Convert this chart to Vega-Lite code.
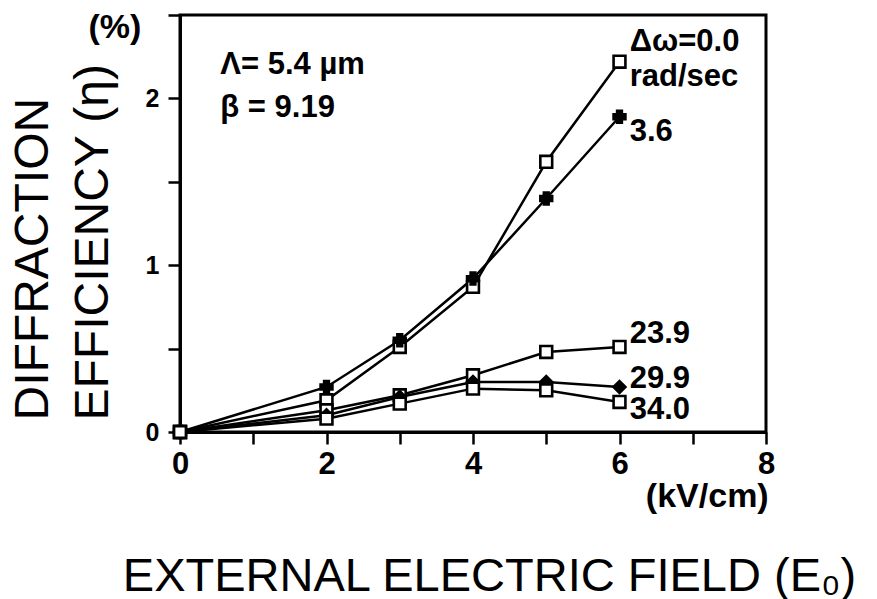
{
  "$schema": "https://vega.github.io/schema/vega-lite/v6.json",
  "width": 586,
  "height": 417,
  "autosize": {"type": "none"},
  "padding": {"left": 180, "top": 15, "right": 111, "bottom": 167},
  "background": "white",
  "config": {
    "font": "Liberation Sans",
    "view": {"stroke": "black", "strokeWidth": 3},
    "axis": {"grid": false, "domainColor": "black", "tickColor": "black", "labelColor": "black", "titleColor": "black"}
  },
  "datasets": {
    "curves": [
      {"s": "0.0", "e": 0, "eta": 0}, {"s": "0.0", "e": 2, "eta": 0.19}, {"s": "0.0", "e": 3, "eta": 0.51}, {"s": "0.0", "e": 4, "eta": 0.87}, {"s": "0.0", "e": 5, "eta": 1.62}, {"s": "0.0", "e": 6, "eta": 2.22},
      {"s": "3.6", "e": 0, "eta": 0}, {"s": "3.6", "e": 2, "eta": 0.27}, {"s": "3.6", "e": 3, "eta": 0.55}, {"s": "3.6", "e": 4, "eta": 0.92}, {"s": "3.6", "e": 5, "eta": 1.40}, {"s": "3.6", "e": 6, "eta": 1.89},
      {"s": "23.9", "e": 0, "eta": 0}, {"s": "23.9", "e": 2, "eta": 0.13}, {"s": "23.9", "e": 3, "eta": 0.22}, {"s": "23.9", "e": 4, "eta": 0.34}, {"s": "23.9", "e": 5, "eta": 0.48}, {"s": "23.9", "e": 6, "eta": 0.51},
      {"s": "29.9", "e": 0, "eta": 0}, {"s": "29.9", "e": 2, "eta": 0.10}, {"s": "29.9", "e": 3, "eta": 0.21}, {"s": "29.9", "e": 4, "eta": 0.30}, {"s": "29.9", "e": 5, "eta": 0.30}, {"s": "29.9", "e": 6, "eta": 0.27},
      {"s": "34.0", "e": 0, "eta": 0}, {"s": "34.0", "e": 2, "eta": 0.08}, {"s": "34.0", "e": 3, "eta": 0.17}, {"s": "34.0", "e": 4, "eta": 0.26}, {"s": "34.0", "e": 5, "eta": 0.25}, {"s": "34.0", "e": 6, "eta": 0.18}
    ],
    "notes": [
      {"e": 0.55, "eta": 2.2, "t": "Λ= 5.4 µm"},
      {"e": 0.55, "eta": 1.94, "t": "β = 9.19"},
      {"e": 6.14, "eta": 2.34, "t": "Δω=0.0"},
      {"e": 6.14, "eta": 2.13, "t": "rad/sec"},
      {"e": 6.14, "eta": 1.80, "t": "3.6"},
      {"e": 6.14, "eta": 0.59, "t": "23.9"},
      {"e": 6.14, "eta": 0.32, "t": "29.9"},
      {"e": 6.14, "eta": 0.13, "t": "34.0"}
    ],
    "units": [
      {"e": -1.25, "eta": 2.425, "t": "(%)"},
      {"e": 6.36, "eta": -0.39, "t": "(kV/cm)"}
    ]
  },
  "encoding": {
    "x": {
      "field": "e", "type": "quantitative",
      "scale": {"domain": [0, 8], "nice": false, "zero": false},
      "axis": {
        "values": [0, 1, 2, 3, 4, 5, 6, 7, 8],
        "format": "~g",
        "labelExpr": "datum.value % 2 === 0 ? datum.label : ''",
        "labelFlush": false, "labelOverlap": false,
        "tickSize": 12, "tickWidth": 2.5, "domainWidth": 3,
        "labelFontSize": 31, "labelFontWeight": "bold", "labelPadding": 5,
        "title": "EXTERNAL ELECTRIC FIELD (E₀)",
        "titleFontSize": 47, "titleFontWeight": "normal",
        "titleX": 309, "titleY": 158, "titleBaseline": "alphabetic", "titleAlign": "center"
      }
    },
    "y": {
      "field": "eta", "type": "quantitative",
      "scale": {"domain": [0, 2.5], "nice": false},
      "axis": {
        "values": [0, 0.5, 1, 1.5, 2, 2.5],
        "format": "~g",
        "labelExpr": "datum.value % 1 === 0 ? datum.label : ''",
        "labelOverlap": false,
        "tickSize": 12, "tickWidth": 2.5, "domainWidth": 3,
        "labelFontSize": 25, "labelFontWeight": "bold", "labelPadding": 9,
        "title": ["DIFFRACTION", "EFFICIENCY (η)"],
        "titleFontSize": 48, "titleFontWeight": "normal", "titleLineHeight": 60,
        "titleX": -133, "titleY": 405, "titleAngle": 270, "titleBaseline": "alphabetic", "titleAlign": "left"
      }
    }
  },
  "layer": [
    {
      "data": {"name": "curves"},
      "mark": {"type": "line", "color": "black", "strokeWidth": 2.5},
      "encoding": {"detail": {"field": "s"}}
    },
    {
      "data": {"name": "curves"},
      "mark": {"type": "point", "stroke": "black", "strokeWidth": 2.6, "opacity": 1, "size": 140},
      "encoding": {
        "shape": {"field": "s", "type": "nominal", "scale": {"domain": ["0.0", "3.6", "23.9", "29.9", "34.0"], "range": ["square", "cross", "square", "diamond", "square"]}, "legend": null},
        "fill": {"field": "s", "type": "nominal", "scale": {"domain": ["0.0", "3.6", "23.9", "29.9", "34.0"], "range": ["white", "black", "white", "black", "white"]}, "legend": null}
      }
    },
    {
      "data": {"name": "notes"},
      "mark": {"type": "text", "align": "left", "baseline": "middle", "fontSize": 31, "fontWeight": "bold", "color": "black"},
      "encoding": {"text": {"field": "t"}}
    },
    {
      "data": {"name": "units"},
      "mark": {"type": "text", "align": "left", "baseline": "middle", "fontSize": 34, "fontWeight": "bold", "color": "black"},
      "encoding": {"text": {"field": "t"}}
    }
  ]
}
